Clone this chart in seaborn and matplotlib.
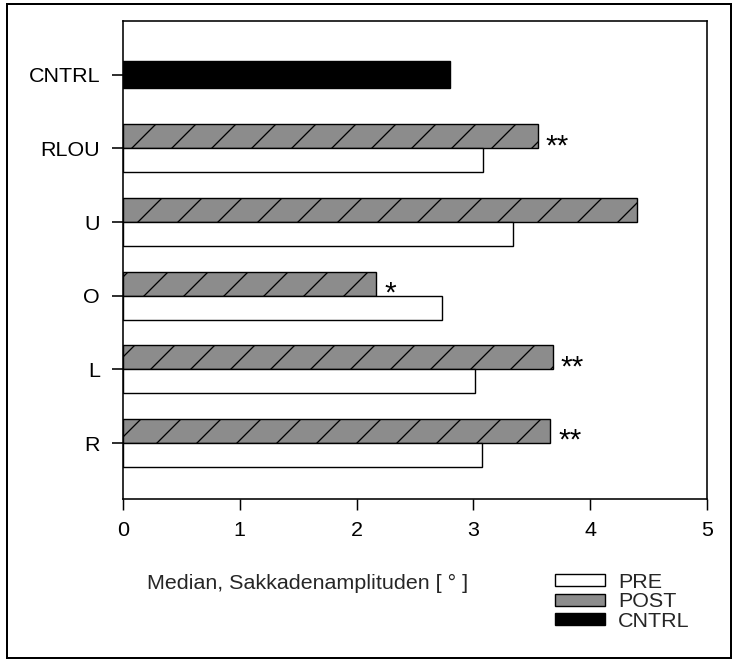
import matplotlib
matplotlib.use("Agg")
import matplotlib.pyplot as plt
from matplotlib.patches import Patch, Rectangle
import pandas as pd
import seaborn as sns

# Median saccade amplitudes (degrees) per condition
groups = ["RLOU", "U", "O", "L", "R"]
pre = [3.08, 3.34, 2.73, 3.01, 3.07]
post = [3.55, 4.40, 2.17, 3.68, 3.66]
cntrl_value = 2.80
stars = ["**", "", "*", "**", "**"]
order = ["CNTRL"] + groups
xticks = [0, 1, 2, 3, 4, 5]
x_label = "Median, Sakkadenamplituden [ ° ]"
legend_labels = ["PRE", "POST", "CNTRL"]

DPI = 240
PT = 72 / DPI          # points per pixel
W, H = 734, 661
FS = 6.45              # base font size in points

sns.set_theme(style="white")
plt.rcParams["font.family"] = ["Liberation Sans", "DejaVu Sans"]
plt.rcParams["hatch.linewidth"] = 1.3 * PT
plt.rcParams["hatch.color"] = "black"
plt.rcParams["xtick.bottom"] = True
plt.rcParams["ytick.left"] = True
plt.rcParams["axes.axisbelow"] = False

post_color = "#8c8c8c"

fig = plt.figure(figsize=(W / DPI, H / DPI), dpi=DPI)
ax = fig.add_axes([123 / W, 1 - 499 / H, (707 - 123) / W, (499 - 21) / H])

df = pd.DataFrame({
    "Gruppe": groups * 2,
    "Phase": ["POST"] * len(groups) + ["PRE"] * len(groups),
    "Wert": post + pre,
})
sns.barplot(data=df, y="Gruppe", x="Wert", hue="Phase", hue_order=["POST", "PRE"],
            order=order, orient="h", width=0.652, dodge=True, errorbar=None,
            palette={"POST": post_color, "PRE": "white"}, saturation=1,
            edgecolor="black", linewidth=1.4 * PT, legend=False, ax=ax)
for bar in ax.containers[0]:
    bar.set_hatch("//")

cdf = pd.DataFrame({"Gruppe": ["CNTRL"], "Wert": [cntrl_value]})
sns.barplot(data=cdf, y="Gruppe", x="Wert", order=order, orient="h", width=0.37,
            color="black", saturation=1, errorbar=None, edgecolor="black",
            linewidth=1.4 * PT, ax=ax)

# significance markers right of the POST bars
for g, v, s in zip(groups, post, stars):
    if s:
        ax.annotate(s, xy=(v, order.index(g) - 0.163), xytext=(8 * PT, -18 * PT),
                    textcoords="offset points", ha="left", va="baseline",
                    fontsize=9.0, color="black")

ax.set_xlim(0, 5)
ax.set_ylim(5.76, -0.73)
ax.set_xticks(xticks)
ax.set_xticklabels([str(t) for t in xticks])
ax.set_yticks(range(len(order)))
ax.set_yticklabels(order)
ax.set_ylabel("")
ax.set_xlabel(x_label, fontsize=FS, ha="left", va="center")
ax.xaxis.set_label_coords((147 - 123) / 584, (499 - 583) / 478)
ax.set_axisbelow(False)

for sp in ax.spines.values():
    sp.set_visible(True)
    sp.set_color("black")
    sp.set_linewidth(1.6 * PT)
ax.xaxis.set_ticks_position("bottom")
ax.tick_params(axis="x", which="major", direction="out",
               length=11 * PT, width=1.5 * PT, color="black", labelsize=FS,
               labelcolor="black", pad=11 * PT)
ax.tick_params(axis="y", which="major", direction="out", left=False, right=False,
               length=11 * PT, width=1.6 * PT, color="black", labelsize=FS,
               labelcolor="black", pad=12 * PT)

# category tick marks on the left spine, pointing outward
ax.plot([0] * len(order), list(range(len(order))), linestyle="none",
        marker=[(-1, 0), (0, 0)], markersize=22 * PT, markeredgewidth=1.6 * PT,
        color="black", clip_on=False, zorder=10,
        transform=ax.get_yaxis_transform())

handles = [Patch(facecolor="white", edgecolor="black", linewidth=1.4 * PT),
           Patch(facecolor=post_color, edgecolor="black", linewidth=1.4 * PT),
           Patch(facecolor="black", edgecolor="black", linewidth=1.4 * PT)]
fig.legend(handles, legend_labels, loc="upper left",
           bbox_to_anchor=(555 / W, 1 - 573 / H), frameon=False, fontsize=FS,
           borderpad=0, borderaxespad=0, handlelength=50 / 21.5,
           handleheight=10 / 21.5, handletextpad=13 / 21.5, labelspacing=0.02)

# outer frame
fig.add_artist(Rectangle((7 / W, 1 - 658 / H), (731 - 7) / W, (658 - 4) / H,
                         transform=fig.transFigure, fill=False,
                         edgecolor="black", linewidth=2 * PT))

fig.savefig("out.png", dpi=DPI)
